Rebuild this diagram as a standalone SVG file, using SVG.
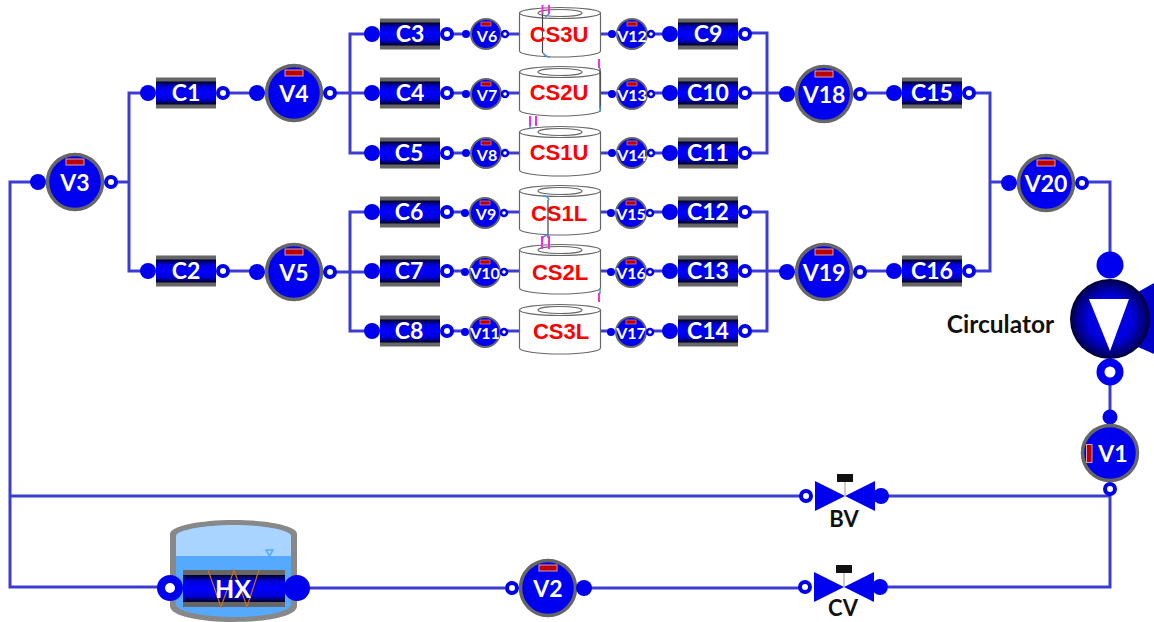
<svg xmlns="http://www.w3.org/2000/svg" xmlns:xlink="http://www.w3.org/1999/xlink" width="1154" height="622" viewBox="0 0 1154 622">
<style>
.p{fill:none;stroke:#3c3cd2;stroke-width:3}
.f{fill:#0000f0}
.o{fill:#fff;stroke:#0000f0;stroke-width:4}
.os{fill:#fff;stroke:#0000f0;stroke-width:2.500}
.t{font-family:"Lato","Liberation Sans",sans-serif;font-weight:700;fill:#fff;text-anchor:middle}
.k{font-family:"Lato","Liberation Sans",sans-serif;font-weight:700;fill:#111;text-anchor:middle}
.c{font-size:23px}
.b{font-size:23px}
.s{font-size:16px}
.r{font-family:"Liberation Sans",sans-serif;font-weight:700;font-size:22px;fill:#f00;text-anchor:middle}
.cy{fill:#fff;stroke:#666;stroke-width:1.2}
.pk{fill:none;stroke:#f030e0;stroke-width:2}
.dk{fill:none;stroke:#444;stroke-width:1.2}
.bl{fill:none;stroke:#4a90e0;stroke-width:1.5}
</style>
<defs>
<linearGradient id="g" x1="0" y1="0" x2="0" y2="1">
<stop offset="0" stop-color="#000020"/><stop offset=".22" stop-color="#0000d8"/><stop offset=".5" stop-color="#0000ff"/><stop offset=".78" stop-color="#0000d8"/><stop offset="1" stop-color="#000020"/>
</linearGradient>
<radialGradient id="pg"><stop offset=".55" stop-color="#0000e0"/><stop offset=".9" stop-color="#00006e"/><stop offset="1" stop-color="#000030"/></radialGradient>
<g id="comp"><rect x="0" y="-15.500" width="60" height="31" fill="#666"/><rect x="0" y="-11.500" width="60" height="23" fill="url(#g)"/><circle class="f" cx="-8" cy="0" r="8"/><circle class="o" cx="67" cy="0" r="5"/></g>
<g id="big"><circle r="27.500" fill="#0000f0" stroke="#666" stroke-width="3.500"/><rect x="-9" y="-23" width="18" height="6" fill="#c00000" stroke="#d8a0a0" stroke-width="1"/><circle class="f" cx="-37" cy="0" r="8"/><circle class="o" cx="36" cy="0" r="5"/></g>
<g id="small"><circle r="15" fill="#0000f0" stroke="#666" stroke-width="2"/><rect x="-5" y="-12" width="10" height="4" fill="#c00000" stroke="#d8a0a0" stroke-width=".6"/><circle class="f" cx="-20" cy="0" r="4"/><circle class="os" cx="19" cy="0" r="3"/></g>
<g id="cyl"><path class="cy" d="M-40.500-21V17A40.500 6 0 0 0 40.500 17V-21Z"/><ellipse class="cy" cx="0" cy="-21" rx="40.500" ry="5.500"/><ellipse class="cy" cx="0" cy="-21" rx="22" ry="3.500"/></g>
<g id="valve"><path class="f" d="M-30-15V15L0 0ZM30-15V15L0 0Z"/><path d="M0 0V-14" stroke="#aaa" stroke-width="1.200"/><rect x="-8" y="-22" width="16" height="8" fill="#111"/><circle class="o" cx="-39" cy="0" r="5"/><circle class="f" cx="36" cy="0" r="8"/></g>
</defs>
<rect width="1154" height="622" fill="#fff"/>
<g id="connectors">
<path class="p" d="M38 182H10V587H160M10 496H800M300 588H505M590 588H800M888 587H1110V489M888 496H1110"/>
<path class="p" d="M110 182H129M148 93H129V271H148M224 93H257M224 271H257"/>
<path class="p" d="M330 93H372M372 34H350V153H372M330 272H372M372 212H350V331H372"/>
<path class="p" d="M447 34H466M447 93H466M447 153H466M447 212H466M447 271H466M447 331H466"/>
<path class="p" d="M505 34H519M505 93H519M505 153H519M505 212H519M505 271H519M505 331H519"/>
<path class="p" d="M600 34H612M600 93H612M600 153H612M600 212H612M600 271H612M600 331H612"/>
<path class="p" d="M651 34H671M651 93H671M651 153H671M651 212H671M651 271H671M651 331H671"/>
<path class="p" d="M746 33H767V153H746M746 93H788M746 212H767V331H746M746 271H788"/>
<path class="p" d="M860 93H894M860 271H894M969 93H990V271H969M990 182H1010M1082 182H1110V265M1110 372V417"/>
</g>
<g id="C1"><use href="#comp" x="156" y="93"/><text class="t c" x="186" y="101">C1</text></g>
<g id="C2"><use href="#comp" x="156" y="271"/><text class="t c" x="186" y="279">C2</text></g>
<g id="C3"><use href="#comp" x="380" y="34"/><text class="t c" x="410" y="42">C3</text></g>
<g id="C4"><use href="#comp" x="380" y="93"/><text class="t c" x="410" y="101">C4</text></g>
<g id="C5"><use href="#comp" x="380" y="153"/><text class="t c" x="409" y="161">C5</text></g>
<g id="C6"><use href="#comp" x="380" y="212"/><text class="t c" x="409" y="220">C6</text></g>
<g id="C7"><use href="#comp" x="380" y="271"/><text class="t c" x="409" y="279">C7</text></g>
<g id="C8"><use href="#comp" x="380" y="331"/><text class="t c" x="409" y="339">C8</text></g>
<g id="C9"><use href="#comp" x="678" y="34"/><text class="t c" x="708" y="42">C9</text></g>
<g id="C10"><use href="#comp" x="678" y="93"/><text class="t c" x="708" y="101">C10</text></g>
<g id="C11"><use href="#comp" x="678" y="153"/><text class="t c" x="708" y="161">C11</text></g>
<g id="C12"><use href="#comp" x="678" y="212"/><text class="t c" x="708" y="220">C12</text></g>
<g id="C13"><use href="#comp" x="678" y="271"/><text class="t c" x="708" y="279">C13</text></g>
<g id="C14"><use href="#comp" x="678" y="331"/><text class="t c" x="708" y="339">C14</text></g>
<g id="C15"><use href="#comp" x="902" y="93"/><text class="t c" x="932" y="101">C15</text></g>
<g id="C16"><use href="#comp" x="902" y="271"/><text class="t c" x="932" y="279">C16</text></g>
<g id="V3"><use href="#big" x="75" y="182"/><text class="t b" x="75" y="191">V3</text></g>
<g id="V4"><use href="#big" x="294" y="93"/><text class="t b" x="294" y="102">V4</text></g>
<g id="V5"><use href="#big" x="294" y="272"/><text class="t b" x="294" y="281">V5</text></g>
<g id="V18"><use href="#big" x="824" y="94"/><text class="t b" x="824" y="103">V18</text></g>
<g id="V19"><use href="#big" x="824" y="272"/><text class="t b" x="824" y="281">V19</text></g>
<g id="V20"><use href="#big" x="1046" y="183"/><text class="t b" x="1046" y="192">V20</text></g>
<g id="V6"><use href="#small" x="486" y="34"/><text class="t s" x="487" y="42">V6</text></g>
<g id="V7"><use href="#small" x="486" y="94"/><text class="t s" x="487" y="101">V7</text></g>
<g id="V8"><use href="#small" x="486" y="153"/><text class="t s" x="487" y="161">V8</text></g>
<g id="V9"><use href="#small" x="485" y="213"/><text class="t s" x="486" y="220">V9</text></g>
<g id="V10"><use href="#small" x="485" y="272"/><text class="t s" x="485" y="279">V10</text></g>
<g id="V11"><use href="#small" x="485" y="332"/><text class="t s" x="485" y="339">V11</text></g>
<g id="V12"><use href="#small" x="632" y="34"/><text class="t s" x="632" y="42">V12</text></g>
<g id="V13"><use href="#small" x="632" y="94"/><text class="t s" x="632" y="101">V13</text></g>
<g id="V14"><use href="#small" x="632" y="153"/><text class="t s" x="632" y="161">V14</text></g>
<g id="V15"><use href="#small" x="631" y="213"/><text class="t s" x="631" y="220">V15</text></g>
<g id="V16"><use href="#small" x="631" y="272"/><text class="t s" x="631" y="279">V16</text></g>
<g id="V17"><use href="#small" x="631" y="332"/><text class="t s" x="631" y="339">V17</text></g>
<g id="CS3U"><use href="#cyl" x="560" y="34"/><path class="pk" d="M542.500 5V14M549 5V14"/><path class="dk" d="M542.500 14V53"/><path class="bl" d="M545 17L549 14M543 53Q546 57 550 57"/><text class="r" x="559" y="42">CS3U</text></g>
<g id="CS2U"><use href="#cyl" x="560" y="93"/><path class="pk" d="M599 59V68"/><path class="dk" d="M600 68V108"/><path class="bl" d="M600 106V112"/><text class="r" x="559" y="100">CS2U</text></g>
<g id="CS1U"><use href="#cyl" x="560" y="153"/><path class="pk" d="M530 116V126M536 116V126"/><path class="bl" d="M530 126V129"/><text class="r" x="559" y="160">CS1U</text></g>
<g id="CS1L"><use href="#cyl" x="560" y="212"/><path class="dk" d="M548 200V238"/><path class="bl" d="M543 196Q548 196 549 200M542 242Q542 235 549 235"/><text class="r" x="559" y="221">CS1L</text></g>
<g id="CS2L"><use href="#cyl" x="560" y="271"/><path class="pk" d="M542 236V249M549 236V249M599 293V302"/><path class="bl" d="M600 288V294"/><text class="r" x="560" y="280">CS2L</text></g>
<g id="CS3L"><use href="#cyl" x="560" y="331"/><text class="r" x="561" y="339">CS3L</text></g>
<g id="circulator"><circle class="f" cx="1110" cy="265" r="13.500"/><path fill="#0000c8" d="M1138 292L1154 283V354L1138 347Z"/><circle cx="1110" cy="319" r="40" fill="url(#pg)"/><path fill="#fff" d="M1089 299H1129L1110 351Z"/><circle cx="1110" cy="372" r="9.500" fill="#fff" stroke="#0000f0" stroke-width="8"/><text class="k" x="1000.500" y="333" font-size="24.500">Circulator</text></g>
<g id="V1"><circle class="f" cx="1110" cy="417" r="7.500"/><circle cx="1110" cy="453" r="27.500" fill="#0000f0" stroke="#666" stroke-width="3.500"/><rect x="1086.500" y="444.500" width="5.500" height="18" fill="#c00000" stroke="#d8a0a0" stroke-width="1"/><circle class="o" cx="1110" cy="489" r="5"/><text class="t b" x="1113" y="462">V1</text></g>
<g id="V2"><circle cx="548" cy="588" r="27.500" fill="#0000f0" stroke="#666" stroke-width="3.500"/><rect x="539" y="565" width="18" height="6" fill="#c00000" stroke="#d8a0a0" stroke-width="1"/><circle class="o" cx="512" cy="588" r="5"/><circle class="f" cx="584" cy="588" r="8"/><text class="t b" x="548" y="597">V2</text></g>
<g id="BV"><use href="#valve" x="845" y="496"/><text class="k" x="844" y="527" font-size="22">BV</text></g>
<g id="CV"><use href="#valve" x="844" y="587"/><text class="k" x="843" y="616" font-size="22">CV</text></g>
<g id="HX">
<path fill="#888" d="M170 534C170 526 200 520 234 520C268 520 297 526 297 534V606C297 616 268 622 234 622C200 622 170 616 170 606Z"/>
<path fill="#55aaff" d="M176 536C176 530 205 525 234 525C262 525 291 530 291 536V604C291 612 262 617 234 617C205 617 176 612 176 604Z"/>
<path fill="#a8d4ff" d="M176 536C176 530 205 525 234 525C262 525 291 530 291 536V556H176Z"/>
<path fill="none" stroke="#55aaff" stroke-width="1.500" d="M266 550H273L269.500 556Z"/>
<rect x="183" y="570" width="102" height="37" fill="#666"/><rect x="183" y="575" width="102" height="27" fill="url(#g)"/>
<path fill="none" stroke="#c87020" stroke-width="1.200" d="M208 570L221 607L234 570L247 607L259 570"/>
<circle cx="170" cy="588" r="9" fill="#fff" stroke="#0000f0" stroke-width="8"/><circle class="f" cx="297" cy="588" r="13"/>
<text class="t" x="233" y="598" font-size="25">HX</text></g>
</svg>
